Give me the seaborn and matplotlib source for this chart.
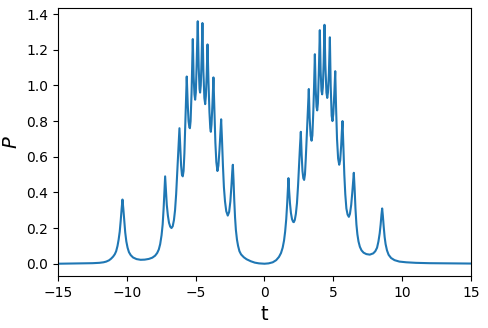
import matplotlib
matplotlib.use("Agg")
import matplotlib.pyplot as plt
import seaborn as sns
import pandas as pd

# values (t < 0 branch)
t_left = [-15.0, -14.0, -13.0, -12.5, -12.0, -11.7, -11.5, -11.3, -11.15, -11.0,
          -10.88, -10.78, -10.68, -10.6, -10.52, -10.45, -10.38, -10.32, -10.26, -10.19,
          -10.12, -10.04, -9.95, -9.85, -9.72, -9.55, -9.3, -9.0, -8.7, -8.4,
          -8.15, -7.95, -7.8, -7.68, -7.58, -7.48, -7.4, -7.33, -7.27, -7.22,
          -7.16, -7.1, -7.02, -6.94, -6.85, -6.76, -6.67, -6.58, -6.5, -6.42,
          -6.34, -6.26, -6.18, -6.12, -6.06, -6.0, -5.94, -5.88, -5.82, -5.74,
          -5.65, -5.58, -5.52, -5.46, -5.42, -5.37, -5.3, -5.21, -5.15, -5.09,
          -5.04, -4.99, -4.93, -4.85, -4.78, -4.72, -4.68, -4.63, -4.57, -4.51,
          -4.44, -4.37, -4.31, -4.26, -4.2, -4.14, -4.07, -4.0, -3.94, -3.9,
          -3.85, -3.78, -3.71, -3.64, -3.57, -3.5, -3.42, -3.35, -3.27, -3.2,
          -3.15, -3.09, -3.02, -2.95, -2.87, -2.78, -2.67, -2.57, -2.48, -2.4,
          -2.34, -2.3, -2.25, -2.2, -2.14, -2.08, -2.0, -1.92, -1.82, -1.7,
          -1.5, -1.3, -1.0, -0.7, -0.4]
P_left = [0.0, 0.001, 0.002, 0.003, 0.005, 0.008, 0.012, 0.019, 0.028, 0.04,
          0.053, 0.07, 0.10, 0.135, 0.18, 0.24, 0.31, 0.36, 0.31, 0.24,
          0.175, 0.125, 0.09, 0.065, 0.048, 0.035, 0.026, 0.022, 0.023, 0.027,
          0.034, 0.045, 0.06, 0.08, 0.11, 0.16, 0.22, 0.31, 0.41, 0.49,
          0.41, 0.33, 0.27, 0.23, 0.208, 0.20, 0.21, 0.245, 0.30, 0.39,
          0.51, 0.64, 0.76, 0.65, 0.55, 0.50, 0.49, 0.52, 0.62, 0.82,
          1.05, 0.90, 0.80, 0.765, 0.76, 0.80, 0.96, 1.26, 1.05, 0.95,
          0.92, 0.96, 1.12, 1.36, 1.10, 0.98, 0.96, 1.00, 1.15, 1.35,
          1.08, 0.93, 0.895, 0.94, 1.06, 1.23, 1.02, 0.85, 0.76, 0.74,
          0.78, 0.90, 1.045, 0.86, 0.68, 0.57, 0.52, 0.55, 0.64, 0.74,
          0.81, 0.70, 0.55, 0.43, 0.35, 0.295, 0.27, 0.29, 0.35, 0.44,
          0.52, 0.555, 0.47, 0.36, 0.26, 0.19, 0.135, 0.10, 0.07, 0.052,
          0.036, 0.025, 0.014, 0.006, 0.002]

# t >= 0 branch
t_right = [0.0, 0.3, 0.6, 0.85, 1.05, 1.2, 1.32, 1.42, 1.5, 1.58,
           1.65, 1.7, 1.74, 1.79, 1.85, 1.92, 2.0, 2.08, 2.13, 2.2,
           2.28, 2.36, 2.44, 2.52, 2.58, 2.64, 2.7, 2.76, 2.82, 2.88,
           2.94, 3.0, 3.08, 3.15, 3.22, 3.28, 3.35, 3.42, 3.48, 3.55,
           3.6, 3.66, 3.72, 3.78, 3.83, 3.88, 3.95, 4.02, 4.08, 4.14,
           4.19, 4.24, 4.3, 4.36, 4.42, 4.5, 4.56, 4.61, 4.68, 4.75,
           4.81, 4.88, 4.94, 5.0, 5.07, 5.14, 5.2, 5.27, 5.35, 5.43,
           5.5, 5.57, 5.62, 5.67, 5.73, 5.8, 5.87, 5.95, 6.04, 6.13,
           6.21, 6.3, 6.38, 6.44, 6.49, 6.55, 6.61, 6.68, 6.75, 6.83,
           6.93, 7.05, 7.2, 7.4, 7.65, 7.9, 8.05, 8.18, 8.28, 8.37,
           8.44, 8.5, 8.55, 8.6, 8.66, 8.73, 8.8, 8.9, 9.02, 9.2,
           9.45, 9.8, 10.3, 11.0, 12.0, 13.5, 15.0]
P_right = [0.0, 0.002, 0.008, 0.02, 0.038, 0.06, 0.09, 0.13, 0.18, 0.25,
           0.34, 0.42, 0.48, 0.41, 0.34, 0.285, 0.25, 0.235, 0.233, 0.245,
           0.28, 0.34, 0.44, 0.57, 0.66, 0.74, 0.61, 0.52, 0.48, 0.47,
           0.50, 0.59, 0.73, 0.86, 0.98, 0.82, 0.72, 0.69, 0.72, 0.86,
           0.99, 1.175, 0.98, 0.88, 0.86, 0.90, 1.08, 1.31, 1.08, 0.97,
           0.95, 0.99, 1.13, 1.34, 1.12, 0.96, 0.93, 0.96, 1.07, 1.27,
           1.00, 0.83, 0.80, 0.84, 0.95, 1.08, 0.88, 0.70, 0.59, 0.555,
           0.58, 0.66, 0.74, 0.80, 0.66, 0.50, 0.39, 0.31, 0.275, 0.263,
           0.28, 0.33, 0.40, 0.46, 0.51, 0.42, 0.31, 0.22, 0.165, 0.125,
           0.095, 0.075, 0.062, 0.054, 0.051, 0.058, 0.07, 0.09, 0.125, 0.17,
           0.22, 0.275, 0.31, 0.27, 0.21, 0.15, 0.11, 0.075, 0.05, 0.032,
           0.02, 0.012, 0.008, 0.005, 0.003, 0.002, 0.001]

df = pd.DataFrame({"t": t_left + t_right, "P": P_left + P_right})

fig = plt.figure(figsize=(4.88, 3.28), dpi=100)
ax = fig.add_axes([0.119, 0.159, 0.846, 0.817])
sns.lineplot(data=df, x="t", y="P", ax=ax, color="#1f77b4", linewidth=1.5,
             estimator=None, sort=False)

ax.set_xlim(-15, 15)
ax.set_ylim(-0.068, 1.435)
ax.set_xlabel("t", fontsize=14)
ax.set_ylabel("$P$", fontsize=14)

fig.savefig("out.png", dpi=100)
